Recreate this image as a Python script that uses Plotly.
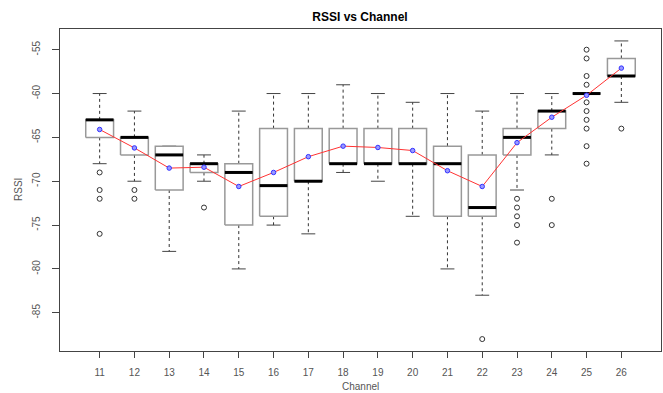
import plotly.graph_objects as go

channels = [11, 12, 13, 14, 15, 16, 17, 18, 19, 20, 21, 22, 23, 24, 25, 26]
upper_whisker = [-60, -62, -66, -67, -62, -60, -60, -59, -60, -61, -60, -62, -60, -60, -60, -54]
q3 = [-63, -65, -66, -68, -68, -64, -64, -64, -64, -64, -66, -67, -64, -62, -60, -56]
median = [-63, -65, -67, -68, -69, -70.5, -70, -68, -68, -68, -68, -73, -65, -62, -60, -58]
q1 = [-65, -67, -71, -69, -75, -74, -70, -68, -68, -68, -74, -74, -67, -64, -60, -58]
lower_whisker = [-68, -70, -78, -70, -80, -75, -76, -69, -70, -74, -80, -83, -71, -67, -60, -61]
means = [-64.1, -66.2, -68.5, -68.4, -70.6, -69.0, -67.2, -66.0, -66.15, -66.5,
         -68.8, -70.6, -65.6, -62.7, -60.2, -57.1]
outliers = {
    11: [-69, -71, -72, -76],
    12: [-71, -72],
    14: [-73],
    22: [-88],
    23: [-72, -73, -74, -75, -77],
    24: [-72, -75],
    25: [-55, -56, -58, -59, -61, -62, -63, -64, -66, -68],
    26: [-64],
}
x_ticks = channels
y_ticks = [-85, -80, -75, -70, -65, -60, -55]

BOX_HALF = 0.4
CAP_HALF = 0.2

box_x, box_y = [], []
med_x, med_y = [], []
wh_x, wh_y = [], []
cap_x, cap_y = [], []
for c, uw, a3, m, a1, lw in zip(channels, upper_whisker, q3, median, q1, lower_whisker):
    box_x += [c - BOX_HALF, c + BOX_HALF, c + BOX_HALF, c - BOX_HALF, c - BOX_HALF, None]
    box_y += [a1, a1, a3, a3, a1, None]
    med_x += [c - BOX_HALF, c + BOX_HALF, None]
    med_y += [m, m, None]
    if uw > a3:
        wh_x += [c, c, None]
        wh_y += [a3, uw, None]
    if lw < a1:
        wh_x += [c, c, None]
        wh_y += [a1, lw, None]
    cap_x += [c - CAP_HALF, c + CAP_HALF, None, c - CAP_HALF, c + CAP_HALF, None]
    cap_y += [uw, uw, None, lw, lw, None]

out_x, out_y = [], []
for c, vals in outliers.items():
    out_x += [c] * len(vals)
    out_y += vals

fig = go.Figure()
fig.add_trace(go.Scatter(x=wh_x, y=wh_y, mode="lines",
                         line=dict(color="#333333", width=1, dash="3px,3px"), hoverinfo="skip"))
fig.add_trace(go.Scatter(x=cap_x, y=cap_y, mode="lines",
                         line=dict(color="#444444", width=1), hoverinfo="skip"))
fig.add_trace(go.Scatter(x=box_x, y=box_y, mode="lines",
                         line=dict(color="#999999", width=1.5), hoverinfo="skip"))
fig.add_trace(go.Scatter(x=med_x, y=med_y, mode="lines",
                         line=dict(color="#000000", width=3), hoverinfo="skip"))
fig.add_trace(go.Scatter(x=out_x, y=out_y, mode="markers",
                         marker=dict(symbol="circle-open", size=5, color="#333333",
                                     line=dict(width=1))))
fig.add_trace(go.Scatter(x=channels, y=means, mode="lines+markers",
                         line=dict(color="#ff3333", width=1),
                         marker=dict(symbol="circle", size=4.5, color="#9999ff",
                                     line=dict(color="#3333ff", width=1))))

fig.update_layout(
    width=663, height=393,
    margin=dict(l=60, r=2, t=29, b=42),
    paper_bgcolor="white", plot_bgcolor="white",
    showlegend=False,
    font=dict(family="Liberation Sans, Arial, sans-serif", size=10, color="#555555"),
    title=dict(text="<b>RSSI vs Channel</b>", x=0.543, xanchor="center",
               y=1 - 17 / 393, yanchor="middle", yref="container",
               font=dict(size=12, color="#000000")),
)
fig.update_xaxes(range=[9.86, 27.14], tickmode="array", tickvals=x_ticks,
                 ticktext=[str(v) for v in x_ticks],
                 showgrid=False, zeroline=False, showline=True, mirror=True,
                 linecolor="#444444", linewidth=1, ticks="outside", ticklen=6,
                 tickcolor="#444444", ticklabelstandoff=6)
fig.update_yaxes(range=[-89.36, -52.64], tickmode="array", tickvals=y_ticks,
                 ticktext=[str(v) for v in y_ticks], tickangle=-90,
                 showgrid=False, zeroline=False, showline=True, mirror=True,
                 linecolor="#444444", linewidth=1, ticks="outside", ticklen=7,
                 tickcolor="#444444", ticklabelstandoff=8)
fig.add_annotation(text="Channel", xref="paper", yref="paper", x=0.5, y=0,
                   yshift=-35, showarrow=False, yanchor="middle",
                   font=dict(size=10, color="#555555"))
fig.add_annotation(text="RSSI", xref="paper", yref="paper", x=0, y=0.5,
                   xshift=-42, showarrow=False, textangle=-90, xanchor="center",
                   font=dict(size=10, color="#555555"))

fig.write_html("out.html")
